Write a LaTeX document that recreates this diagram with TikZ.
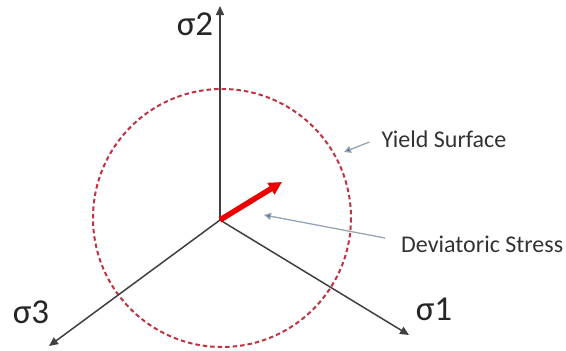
\documentclass[tikz,border=0pt]{standalone}
\usepackage{fontspec}
\setmainfont{Carlito}
\usetikzlibrary{arrows.meta}
\definecolor{yieldred}{RGB}{190,50,65}
\definecolor{calline}{RGB}{150,165,180}
\definecolor{caltip}{RGB}{65,110,175}
\tikzset{
  axisline/.style  = {-{Triangle[length=9pt,width=8pt]}, black!75, line width=1.5pt},
  yieldline/.style = {draw=yieldred, dash pattern=on 4.5pt off 3pt, line width=2pt},
  devar/.style     = {-{Triangle[length=13pt,width=13pt]}, red!92!black, line width=5.5pt},
  callout/.style   = {-{Triangle[length=7pt,width=7pt,fill=caltip]}, draw=calline, line width=1.3pt},
  axlabel/.style   = {font=\fontsize{35}{38}\selectfont, text=black!85, inner sep=0pt},
  notelabel/.style = {font=\fontsize{24}{26}\selectfont, text=black!80, inner sep=0pt}
}
\begin{document}
\begin{tikzpicture}[x=1pt,y=-1pt]
  \useasboundingbox (0,0) rectangle (566,351);
  % axes
  \coordinate (o)    at (220,220);
  \coordinate (s2tip) at (220,6);
  \coordinate (s1tip) at (409,335);
  \coordinate (s3tip) at (49,346);
  \draw[yieldline] (222,218) circle[radius=129];
  \draw[axisline] (o) -- (s2tip);
  \draw[axisline] (o) -- (s1tip);
  \draw[axisline] (o) -- (s3tip);
  \node[axlabel] (s2) at (195,24)  {σ2};
  \node[axlabel] (s1) at (434,309) {σ1};
  \node[axlabel] (s3) at (31,312)  {σ3};
  % deviatoric stress vector
  \coordinate (devtip) at (282,182);
  \draw[devar] (o) -- (devtip);
  % callouts
  \node[notelabel] (ys) at (444,139) {Yield Surface};
  \coordinate (ysend) at (344,152);
  \draw[callout] (ys.west) ++(-12,3) coordinate (ysstart) (ysstart) -- (ysend);
  \node[notelabel, anchor=west] (ds) at (401,244) {Deviatoric Stress};
  \coordinate (dsend) at (264,215);
  \draw[callout] (ds.west) ++(-16,-6) coordinate (dsstart) (dsstart) -- (dsend);
\end{tikzpicture}
\end{document}
